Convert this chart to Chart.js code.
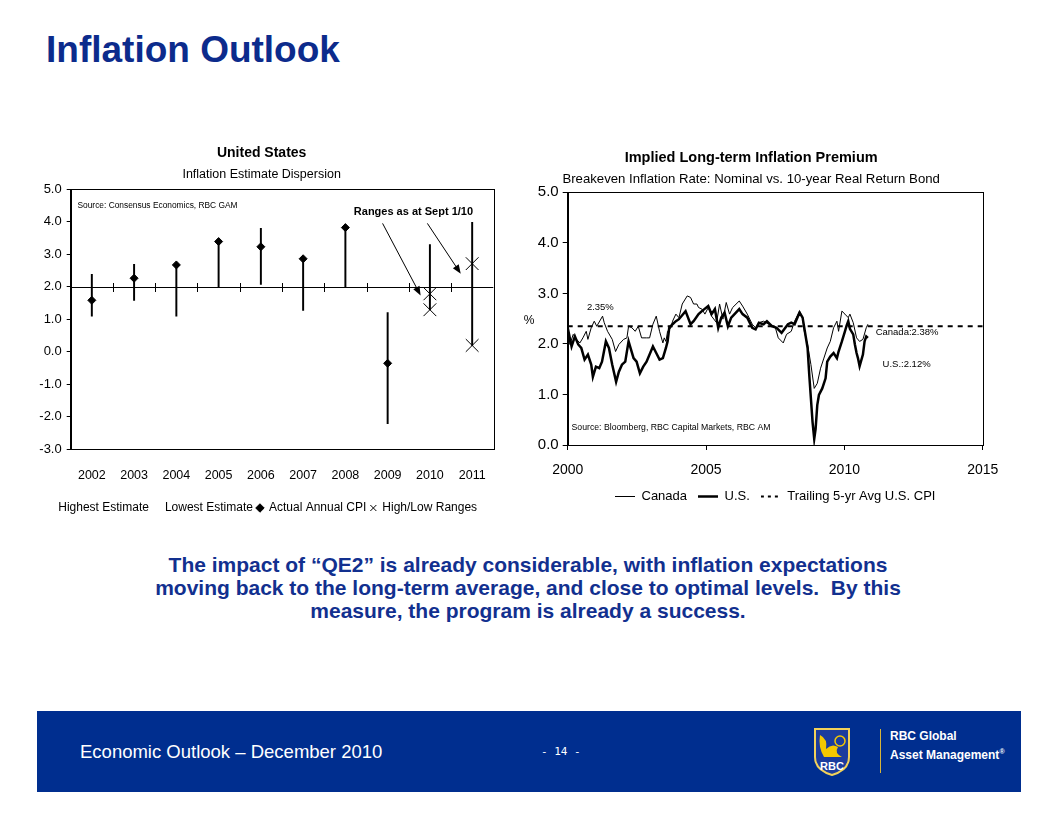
<!DOCTYPE html>
<html lang="en">
<head>
<meta charset="UTF-8">
<meta name="viewport" content="width=device-width, initial-scale=1.0">
<title>Inflation Outlook</title>
<script src="https://cdn.jsdelivr.net/npm/chart.js"></script>
<style>
  body { margin: 0; background: #fff; font-family: "Liberation Sans", Arial, sans-serif; }
  #page { position: relative; width: 1056px; height: 816px; overflow: hidden; background: #fff; }
  h1 { position: absolute; left: 46px; top: 31px; margin: 0; font-size: 37px; line-height: 1; color: #0c2b8c; }
  .box { position: absolute; }
  #usBox { left: 30px; top: 140px; width: 480px; height: 384px; }
  #beBox { left: 510px; top: 140px; width: 500px; height: 373px; }
  #note { position: absolute; left: 0; top: 553px; width: 1056px; text-align: center; font-weight: bold; font-size: 21px; line-height: 23px; color: #12308f; }
  #footer { position: absolute; left: 37px; top: 711px; width: 984px; height: 81px; background: #002e8f; color: #fff; }
  #footer .name { position: absolute; left: 43px; top: 30px; font-size: 18.5px; }
  #footer .pg { position: absolute; left: 504px; top: 34px; font-size: 11px; font-family: "DejaVu Sans Mono", monospace; }
  #footer svg { position: absolute; left: 775px; top: 16px; }
  #footer .rule { position: absolute; left: 843px; top: 18px; width: 1px; height: 44px; background: #d6b43a; }
  #footer .brand { position: absolute; left: 853px; top: 18px; font-weight: bold; font-size: 12px; line-height: 15px; white-space: nowrap; }
</style>
</head>
<body>
<div id="page">
  <h1>Inflation Outlook</h1>
  <div class="box" id="usBox"><canvas id="usChart"></canvas></div>
  <div class="box" id="beBox"><canvas id="beChart"></canvas></div>
  <div id="note">The impact of “QE2” is already considerable, with inflation expectations<br>moving back to the long-term average, and close to optimal levels.&nbsp; By this<br>measure, the program is already a success.</div>
  <div id="footer">
    <div class="name">Economic Outlook – December 2010</div>
    <div class="pg">- 14 -</div>
    <svg width="40" height="50" viewBox="0 0 40 50">
      <path d="M3 2 H37 V30 Q37 43 20 48 Q3 43 3 30 Z" fill="#1b3c9e" stroke="#f2d25a" stroke-width="2"/>
      <path d="M8 8 Q16 12 14 22 Q20 16 26 20 Q22 26 30 30 L12 30 Q6 20 8 8 Z" fill="#f5c800"/>
      <circle cx="28" cy="14" r="5" fill="none" stroke="#f5c800" stroke-width="1.5"/>
      <text x="20" y="43" font-size="11" font-weight="bold" fill="#fff" text-anchor="middle" font-family="Liberation Sans, sans-serif">RBC</text>
    </svg>
    <div class="rule"></div>
    <div class="brand">RBC Global<br>Asset Management<sup style="font-size:7px">®</sup></div>
  </div>
</div>

<script>
// left chart: United States inflation estimate dispersion
var years = ['2002', '2003', '2004', '2005', '2006', '2007', '2008', '2009', '2010', '2011'];
var highestEstimate = [2.38, 2.69, 2.67, 3.39, 3.80, 2.86, 3.82, 1.20, 3.30, 3.98];
var lowestEstimate = [1.09, 1.58, 1.09, 2.00, 2.07, 1.27, 2.00, -2.22, 1.29, 0.19];
var actualCpi = [1.58, 2.26, 2.67, 3.39, 3.23, 2.86, 3.82, -0.36, null, null];
var rangeHigh = [null, null, null, null, null, null, null, null, 1.78, 2.71];
var rangeLow = [null, null, null, null, null, null, null, null, 1.29, 0.19];
var usTicks = [-3, -2, -1, 0, 1, 2, 3, 4, 5];

// right chart: breakeven inflation rate
var usDates = [2000.00, 2000.14, 2000.26, 2000.38, 2000.49, 2000.61, 2000.73, 2000.85, 2000.91,
  2001.02, 2001.14, 2001.24, 2001.38, 2001.49, 2001.61, 2001.75, 2001.85, 2001.96,
  2002.08, 2002.20, 2002.38, 2002.49, 2002.61, 2002.73, 2002.85,
  2003.08, 2003.20, 2003.32, 2003.44, 2003.55, 2003.61, 2003.67, 2003.79, 2003.91,
  2004.02, 2004.26, 2004.44, 2004.55, 2004.73, 2004.85,
  2005.08, 2005.20, 2005.32, 2005.44, 2005.55, 2005.67, 2005.79, 2005.91,
  2006.20, 2006.32, 2006.49, 2006.67, 2006.79, 2006.91,
  2007.08, 2007.20, 2007.38, 2007.55, 2007.73, 2007.96,
  2008.08, 2008.20, 2008.38, 2008.49, 2008.67, 2008.73, 2008.79, 2008.85, 2008.91, 2008.96,
  2009.02, 2009.08, 2009.20, 2009.32, 2009.38, 2009.49, 2009.61, 2009.73, 2009.79, 2009.91,
  2010.02, 2010.08, 2010.14, 2010.20, 2010.32, 2010.38, 2010.44, 2010.49, 2010.55, 2010.67, 2010.73, 2010.79, 2010.85];
var usRate = [2.32, 1.95, 2.15, 1.99, 1.92, 1.69, 1.79, 1.59, 1.35,
  1.55, 1.52, 1.65, 2.05, 1.92, 1.59, 1.25, 1.45, 1.59,
  1.65, 2.05, 1.72, 1.65, 1.42, 1.55, 1.65,
  1.95, 1.82, 1.69, 1.72, 1.92, 2.05, 2.32, 2.39, 2.45,
  2.49, 2.65, 2.39, 2.45, 2.59, 2.65,
  2.75, 2.59, 2.69, 2.32, 2.52, 2.62, 2.35, 2.52,
  2.69, 2.59, 2.52, 2.32, 2.29, 2.42,
  2.39, 2.45, 2.35, 2.32, 2.22, 2.39,
  2.42, 2.39, 2.62, 2.52, 1.92, 1.39, 0.92, 0.45, 0.12, 0.32,
  0.79, 0.99, 1.12, 1.32, 1.65, 1.75, 1.82, 1.72, 1.85, 2.05,
  2.25, 2.36, 2.45, 2.30, 2.19, 1.99, 1.82, 1.72, 1.56, 1.79, 2.05, 2.15, 2.12];
var canadaDates = [2000.00, 2000.08, 2000.20, 2000.32, 2000.44, 2000.55, 2000.67, 2000.73, 2000.85, 2000.96,
  2001.05, 2001.26, 2001.32, 2001.44, 2001.61, 2001.73, 2001.85,
  2002.02, 2002.14, 2002.20, 2002.32, 2002.44, 2002.55, 2002.67, 2002.85, 2002.96,
  2003.08, 2003.20, 2003.32, 2003.44, 2003.49, 2003.55, 2003.61, 2003.73, 2003.79, 2003.91,
  2004.02, 2004.14, 2004.32, 2004.44, 2004.55, 2004.67, 2004.73, 2004.85, 2004.96,
  2005.08, 2005.20, 2005.38, 2005.49, 2005.61, 2005.73, 2005.85, 2005.96,
  2006.20, 2006.32, 2006.49, 2006.67, 2006.79, 2006.91,
  2007.08, 2007.26, 2007.49, 2007.61, 2007.79, 2007.91,
  2008.08, 2008.20, 2008.38, 2008.49, 2008.55, 2008.67, 2008.79, 2008.91,
  2009.02, 2009.14, 2009.26, 2009.38, 2009.49, 2009.61, 2009.73, 2009.79, 2009.91,
  2010.02, 2010.14, 2010.20, 2010.32, 2010.44, 2010.55, 2010.67, 2010.79, 2010.85];
var canadaRate = [2.39, 1.99, 2.19, 2.09, 2.02, 2.12, 2.25, 2.09, 2.32, 2.45,
  2.35, 2.55, 2.42, 2.25, 2.09, 1.85, 1.99,
  2.09, 2.12, 2.35, 2.32, 2.25, 2.35, 2.12, 2.12, 2.12,
  2.39, 2.55, 2.25, 2.02, 2.12, 2.05, 2.25, 2.32, 2.45, 2.59,
  2.52, 2.79, 2.95, 2.92, 2.79, 2.79, 2.72, 2.69, 2.59,
  2.72, 2.55, 2.42, 2.79, 2.49, 2.82, 2.59, 2.72,
  2.85, 2.75, 2.59, 2.39, 2.32, 2.42,
  2.45, 2.39, 2.35, 2.12, 2.02, 2.19,
  2.25, 2.45, 2.65, 2.52, 2.25, 1.99, 1.59, 1.12,
  1.22, 1.52, 1.72, 1.92, 2.05, 2.32, 2.45, 2.25, 2.65,
  2.59, 2.52, 2.59, 2.42, 2.12, 2.05, 2.09, 2.32, 2.39];
var avgDates = [2000, 2015];
var avgCpi = [2.35, 2.35];

var ARIAL = '"Liberation Sans", Arial, sans-serif';

// box round the plot, the 2.0 crossing line and its tick marks
var usFrame = {
  id: 'usFrame',
  beforeDatasetsDraw: function(chart) {
    var ctx = chart.ctx, a = chart.chartArea, x = chart.scales.x, y = chart.scales.y;
    ctx.save();
    ctx.strokeStyle = '#000';
    ctx.lineWidth = 1;
    ctx.strokeRect(Math.round(a.left) + 0.5, Math.round(a.top) + 0.5, Math.round(a.width), Math.round(a.height));
    var y2 = Math.round(y.getPixelForValue(2)) + 0.5;
    ctx.beginPath();
    ctx.moveTo(a.left, y2);
    ctx.lineTo(a.right, y2);
    for (var i = 1; i < years.length; i++) {
      var xb = Math.round(x.getPixelForValue(i - 0.5)) + 0.5;
      ctx.moveTo(xb, y2 - 4.5);
      ctx.lineTo(xb, y2 + 4.5);
    }
    ctx.stroke();
    ctx.restore();
  }
};

var boxFrame = {
  id: 'boxFrame',
  beforeDatasetsDraw: function(chart) {
    var ctx = chart.ctx, a = chart.chartArea;
    ctx.save();
    ctx.strokeStyle = '#000';
    ctx.lineWidth = 1;
    ctx.strokeRect(Math.round(a.left) + 0.5, Math.round(a.top) + 0.5, Math.round(a.width), Math.round(a.height));
    ctx.restore();
  }
};

// text notes and arrows placed in data coordinates
var notes = {
  id: 'notes',
  afterDraw: function(chart, args, opts) {
    var ctx = chart.ctx, x = chart.scales.x, y = chart.scales.y;
    ctx.save();
    ctx.fillStyle = '#000';
    ctx.strokeStyle = '#000';
    ctx.textBaseline = 'middle';
    (opts.items || []).forEach(function(t) {
      ctx.font = t.font;
      ctx.textAlign = t.align || 'left';
      ctx.fillText(t.text, x.getPixelForValue(t.x) + (t.dx || 0), y.getPixelForValue(t.y));
    });
    (opts.arrows || []).forEach(function(ar) {
      var x0 = x.getPixelForValue(ar[0]), y0 = y.getPixelForValue(ar[1]);
      var x1 = x.getPixelForValue(ar[2]), y1 = y.getPixelForValue(ar[3]);
      var ang = Math.atan2(y1 - y0, x1 - x0);
      ctx.lineWidth = 1;
      ctx.beginPath();
      ctx.moveTo(x0, y0);
      ctx.lineTo(x1 - 7 * Math.cos(ang), y1 - 7 * Math.sin(ang));
      ctx.stroke();
      ctx.beginPath();
      ctx.moveTo(x1, y1);
      ctx.lineTo(x1 - 9 * Math.cos(ang) + 3.5 * Math.sin(ang), y1 - 9 * Math.sin(ang) - 3.5 * Math.cos(ang));
      ctx.lineTo(x1 - 9 * Math.cos(ang) - 3.5 * Math.sin(ang), y1 - 9 * Math.sin(ang) + 3.5 * Math.cos(ang));
      ctx.closePath();
      ctx.fill();
    });
    ctx.restore();
  }
};

// small line samples used as legend symbols
function swatch(width, dash) {
  var c = document.createElement('canvas');
  c.width = 20; c.height = 5;
  var g = c.getContext('2d');
  g.strokeStyle = '#000';
  g.lineWidth = width;
  g.setLineDash(dash);
  g.beginPath();
  g.moveTo(0, 2.5);
  g.lineTo(20, 2.5);
  g.stroke();
  return c;
}

var rangeBars = years.map(function(_, i) { return [lowestEstimate[i], highestEstimate[i]]; });
var rangeMarks = [];
years.forEach(function(yr, i) {
  if (rangeHigh[i] !== null) rangeMarks.push({ x: yr, y: rangeHigh[i] });
  if (rangeLow[i] !== null) rangeMarks.push({ x: yr, y: rangeLow[i] });
});

new Chart(document.getElementById('usChart'), {
  type: 'bar',
  data: {
    labels: years,
    datasets: [
      { type: 'line', label: 'Highest Estimate', data: highestEstimate, showLine: false, pointRadius: 0,
        pointStyle: 'circle', backgroundColor: 'rgba(0,0,0,0)', borderColor: 'rgba(0,0,0,0)', order: 1 },
      { type: 'line', label: 'Lowest Estimate', data: lowestEstimate, showLine: false, pointRadius: 0,
        pointStyle: 'circle', backgroundColor: 'rgba(0,0,0,0)', borderColor: 'rgba(0,0,0,0)', order: 2 },
      { type: 'line', label: 'Actual Annual CPI', data: actualCpi, showLine: false, pointStyle: 'rectRot',
        pointRadius: 4, backgroundColor: '#000', borderColor: '#000', borderWidth: 1, order: 3 },
      { type: 'line', label: 'High/Low Ranges', data: rangeMarks, showLine: false, pointStyle: 'crossRot',
        pointRadius: 9, backgroundColor: '#000', borderColor: '#000', borderWidth: 1, order: 4 },
      { type: 'bar', label: 'range', data: rangeBars, backgroundColor: '#000', barThickness: 1.3, order: 5 }
    ]
  },
  options: {
    responsive: true,
    maintainAspectRatio: false,
    animation: false,
    layout: { padding: { left: 0, right: 16.7, top: 0, bottom: 0 } },
    plugins: {
      title: { display: true, text: 'United States', color: '#000',
        font: { family: ARIAL, size: 14, weight: 'bold' }, padding: { top: 4.6, bottom: 0 } },
      subtitle: { display: true, text: 'Inflation Estimate Dispersion', color: '#000',
        font: { family: ARIAL, size: 12.5 }, padding: { top: 6.1, bottom: 6.8 } },
      legend: {
        position: 'bottom',
        labels: { color: '#000', font: { family: ARIAL, size: 12 }, usePointStyle: true,
          boxWidth: 6, boxHeight: 6, padding: 4,
          filter: function(item) { return item.text !== 'range'; } }
      },
      tooltip: { enabled: false },
      notes: {
        items: [
          { text: 'Source: Consensus Economics, RBC GAM', x: -0.34, y: 4.51, font: '8.4px ' + ARIAL, align: 'left' },
          { text: 'Ranges as at Sept 1/10', x: 7.61, y: 4.31, font: 'bold 11px ' + ARIAL, align: 'center' }
        ],
        arrows: [[6.88, 3.95, 7.78, 1.73], [7.94, 3.95, 8.73, 2.40]]
      }
    },
    scales: {
      x: {
        grid: { display: false, drawTicks: false },
        border: { display: false },
        ticks: { color: '#000', font: { family: ARIAL, size: 12.5 }, padding: 18.7 },
        afterFit: function(s) { s.height = 49; }
      },
      y: {
        min: -3, max: 5,
        afterBuildTicks: function(s) { s.ticks = usTicks.map(function(v) { return { value: v }; }); },
        ticks: { color: '#000', font: { family: ARIAL, size: 13 }, padding: 5,
          callback: function(v) { return Number(v).toFixed(1); } },
        grid: { drawOnChartArea: false, color: '#000', tickLength: 4 },
        border: { color: '#000' },
        afterFit: function(s) { s.width = 40.7; }
      }
    }
  },
  plugins: [usFrame, notes]
});

function pts(xs, ys) { return xs.map(function(d, i) { return { x: d, y: ys[i] }; }); }

new Chart(document.getElementById('beChart'), {
  type: 'line',
  data: {
    datasets: [
      { label: 'Canada', data: pts(canadaDates, canadaRate), borderColor: '#000', backgroundColor: '#000',
        borderWidth: 1, pointRadius: 0, pointStyle: swatch(1, []), tension: 0, order: 0 },
      { label: 'U.S.', data: pts(usDates, usRate), borderColor: '#000', backgroundColor: '#000',
        borderWidth: 2.5, pointRadius: 0, pointStyle: swatch(2.5, []), tension: 0, order: 1 },
      { label: 'Trailing 5-yr Avg U.S. CPI', data: pts(avgDates, avgCpi), borderColor: '#000', backgroundColor: '#000',
        borderWidth: 2, borderDash: [5, 5], pointRadius: 0, pointStyle: swatch(2, [3, 4]), order: 2 }
    ]
  },
  options: {
    responsive: true,
    maintainAspectRatio: false,
    animation: false,
    layout: { padding: { left: 0, right: 17.7, top: 0, bottom: 0 } },
    plugins: {
      title: { display: true, text: 'Implied Long-term Inflation Premium', color: '#000',
        font: { family: ARIAL, size: 14.5, weight: 'bold' }, padding: { top: 9.3, bottom: 0 } },
      subtitle: { display: true, text: 'Breakeven Inflation Rate: Nominal vs. 10-year Real Return Bond', color: '#000',
        font: { family: ARIAL, size: 13.2 }, padding: { top: 4.4, bottom: 5.4 } },
      legend: {
        position: 'bottom',
        fullSize: false,
        labels: { color: '#000', font: { family: ARIAL, size: 13 }, usePointStyle: true, pointStyleWidth: 20, padding: 11 }
      },
      tooltip: { enabled: false },
      notes: {
        items: [
          { text: '2.35%', x: 2001.18, y: 2.72, font: '9.5px ' + ARIAL, align: 'center' },
          { text: 'Canada:2.38%', x: 2011.13, y: 2.22, font: '9.5px ' + ARIAL, align: 'left' },
          { text: 'U.S.:2.12%', x: 2011.38, y: 1.60, font: '9.5px ' + ARIAL, align: 'left' },
          { text: 'Source: Bloomberg, RBC Capital Markets, RBC AM', x: 2000.14, y: 0.35, font: '8.7px ' + ARIAL, align: 'left' },
          { text: '%', x: 2000, y: 2.46, dx: -44, font: '12px ' + ARIAL, align: 'left' }
        ]
      }
    },
    scales: {
      x: {
        type: 'linear', min: 2000, max: 2015,
        ticks: { stepSize: 5, color: '#000', font: { family: ARIAL, size: 14 }, padding: 11.7,
          callback: function(v) { return String(v); } },
        grid: { drawOnChartArea: false, color: '#000', tickLength: 5 },
        border: { color: '#000' },
        afterFit: function(s) { s.height = 34; }
      },
      y: {
        min: 0, max: 5,
        ticks: { stepSize: 1, color: '#000', font: { family: ARIAL, size: 15 }, padding: 4,
          callback: function(v) { return Number(v).toFixed(1); } },
        grid: { drawOnChartArea: false, color: '#000', tickLength: 5 },
        border: { color: '#000' },
        afterFit: function(s) { s.width = 57.7; }
      }
    }
  },
  plugins: [boxFrame, notes]
});
</script>
</body>
</html>
